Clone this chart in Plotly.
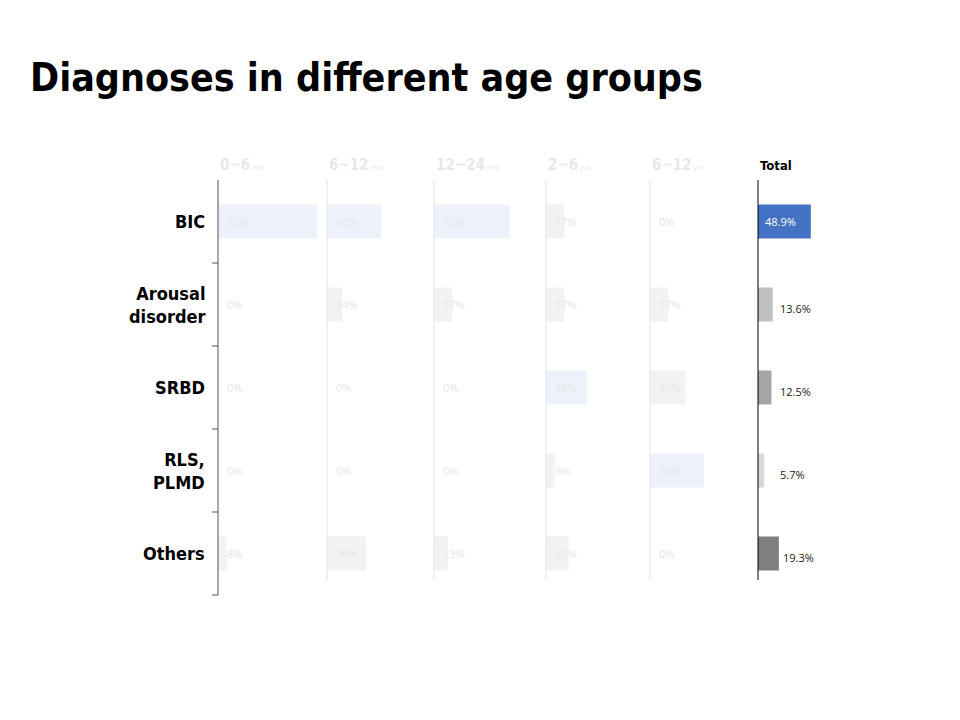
import plotly.graph_objects as go

groups = ["0~6", "6~12", "12~24", "2~6", "6~12", "Total"]
units = ["m/o", "m/o", "m/o", "y/o", "y/o", ""]
categories = ["BIC", "Arousal<br>disorder", "SRBD", "RLS,<br>PLMD", "Others"]
values = [
    [92, 0, 0, 0, 8],
    [50, 14, 0, 0, 36],
    [70, 17, 0, 0, 13],
    [17, 17, 38, 8, 21],
    [0, 17, 33, 50, 0],
    [48.9, 13.6, 12.5, 5.7, 19.3],
]
total_colors = ["#4472c4", "#bfbfbf", "#a5a5a5", "#d9d9d9", "#7f7f7f"]

W, H = 960, 720
OFF = 8
starts = [218 - OFF, 327 - OFF, 434 - OFF, 546 - OFF, 650 - OFF, 758 - OFF]
pw = 108
ytop, ybot = 180 - OFF, 595 - OFF

fig = go.Figure()
annotations = []
shapes = []
for i, vals in enumerate(values):
    ax = "" if i == 0 else str(i + 1)
    total = i == 5
    mx = max(vals)
    if total:
        cols = total_colors
    else:
        cols = ["#edf1fa" if v == mx else "#f2f2f2" for v in vals]
    fig.add_trace(go.Bar(x=vals, y=categories, orientation="h", marker_color=cols,
                         marker_line_width=0, xaxis="x" + ax, yaxis="y" + ax,
                         hoverinfo="x+y", showlegend=False))
    x0 = starts[i] / W
    fig.layout["xaxis" + ax] = dict(domain=[x0, x0 + pw / W], range=[0, 100], visible=False,
                                    fixedrange=True)
    fig.layout["yaxis" + ax] = dict(domain=[1 - ybot / H, 1 - ytop / H], anchor="x" + ax,
                                    categoryorder="array", categoryarray=categories[::-1],
                                    showticklabels=False, showgrid=False, zeroline=False,
                                    showline=False, ticks="", fixedrange=True)
    for c, v in zip(categories, vals):
        if total:
            if c == "BIC":
                annotations.append(dict(x=0, y=c, xref="x" + ax, yref="y" + ax, xanchor="left",
                                        xshift=5, text=f"{v}%", showarrow=False,
                                        font=dict(size=11, color="white")))
            else:
                annotations.append(dict(x=max(v, 16.5), y=c, xref="x" + ax, yref="y" + ax,
                                        xanchor="left", xshift=2, yshift=-4, text=f"{v}%",
                                        showarrow=False, font=dict(size=11, color="#222")))
        else:
            annotations.append(dict(x=0, y=c, xref="x" + ax, yref="y" + ax, xanchor="left",
                                    xshift=7, text=f"{v}%", showarrow=False,
                                    font=dict(size=11, color="#e6e6e6")))
    hdr = (f"<b>{groups[i]}</b><span style='font-size:7px'> {units[i]}</span>" if not total
           else "<b>Total</b>")
    annotations.append(dict(x=x0, y=1 - (165 - OFF) / H, xref="paper", yref="paper",
                            xanchor="left", yanchor="middle", text=hdr, showarrow=False,
                            font=dict(size=15 if not total else 13,
                                      color="#e8e8e8" if not total else "black",
                                      family="DejaVu Sans Condensed, DejaVu Sans")))
    shapes.append(dict(type="line", xref="paper", yref="paper", x0=x0, x1=x0,
                       y0=1 - ((580 - OFF) if i else ybot) / H, y1=1 - ytop / H,
                       line=dict(color="black" if total else ("#555" if i == 0 else "#e3e3e3"),
                                 width=1)))

for k in range(1, 6):
    yy = ytop + k * 83
    shapes.append(dict(type="line", xref="paper", yref="paper", x0=(212 - OFF) / W,
                       x1=(218 - OFF) / W, y0=1 - yy / H, y1=1 - yy / H,
                       line=dict(color="#555", width=1)))

for c in categories:
    annotations.append(dict(x=(207 - OFF) / W, y=c, xref="paper", yref="y", xanchor="right",
                            text=f"<b>{c}</b>", showarrow=False, align="right",
                            font=dict(size=18, color="black",
                                      family="DejaVu Sans Condensed, DejaVu Sans")))

fig.update_layout(
    width=W, height=H, margin=dict(l=0, r=0, t=0, b=0),
    paper_bgcolor="white", plot_bgcolor="white", bargap=0.59,
    title=dict(text="<b>Diagnoses in different age groups</b>", x=(30 - OFF) / W,
               xanchor="left", y=1 - (77 - OFF) / H, yanchor="middle",
               font=dict(size=39, color="black", family="DejaVu Sans Condensed, DejaVu Sans")),
    annotations=annotations, shapes=shapes,
)
fig.write_html("out.html")
